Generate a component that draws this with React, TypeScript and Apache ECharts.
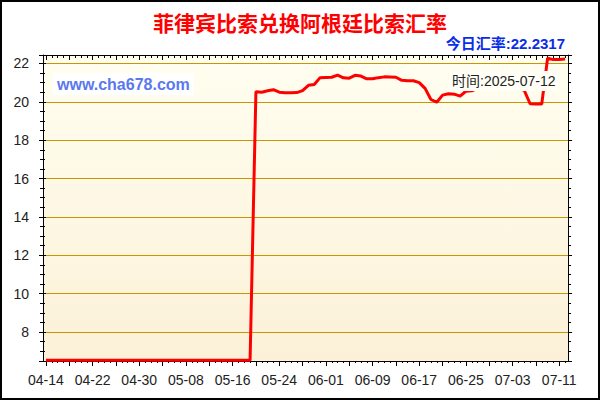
import * as echarts from 'echarts';
import { useEffect, useRef } from 'react';

// 日期: 2025-04-14 .. 2025-07-12
const START = new Date(2025, 3, 14);
const DAYS = 90;
const dates: string[] = [];
for (let i = 0; i < DAYS; i++) {
  const d = new Date(START.getFullYear(), START.getMonth(), START.getDate() + i);
  dates.push(String(d.getMonth() + 1).padStart(2, '0') + '-' + String(d.getDate()).padStart(2, '0'));
}

// 04-14 .. 05-19
const ratesBefore = [
  6.53, 6.53, 6.53, 6.53, 6.53, 6.53, 6.53, 6.53, 6.53, 6.53, 6.53, 6.53,
  6.53, 6.53, 6.53, 6.53, 6.53, 6.53, 6.53, 6.53, 6.53, 6.53, 6.53, 6.53,
  6.53, 6.53, 6.53, 6.53, 6.53, 6.53, 6.53, 6.53, 6.53, 6.53, 6.53, 6.53,
];
// 05-20 .. 07-12
const ratesAfter = [
  20.52, 20.5, 20.58, 20.63, 20.5, 20.47, 20.47, 20.48, 20.58, 20.86, 20.9, 21.26,
  21.27, 21.28, 21.39, 21.25, 21.23, 21.38, 21.34, 21.2, 21.2, 21.26, 21.3, 21.29,
  21.28, 21.12, 21.1, 21.1, 21.0, 20.7, 20.12, 19.98, 20.35, 20.42, 20.4, 20.3,
  20.55, 20.57, 20.7, 20.75, 20.75, 20.8, 20.8, 20.75, 20.7, 20.7, 20.6, 19.9,
  19.88, 19.88, 22.27, 22.2, 22.2, 22.23,
];
const rates = [...ratesBefore, ...ratesAfter];

const Y_MIN = 6.49;
const Y_MAX = 22.44;

const TITLE = '菲律宾比索兑换阿根廷比索汇率';
const TODAY = '今日汇率:22.2317';
const TIME_LABEL = '时间:2025-07-12';
const SITE = 'www.cha678.com';

const FONT = '"Liberation Sans", "Noto Sans CJK SC", sans-serif';

export default function App() {
  const chartRef = useRef<HTMLDivElement>(null);

  useEffect(() => {
    if (!chartRef.current) return;
    const chart = echarts.init(chartRef.current, null, { renderer: 'svg' });

    const black = { color: '#000', width: 1 };
    const yBase = {
      type: 'value',
      min: Y_MIN,
      max: Y_MAX,
      splitNumber: 8,
      minInterval: 2,
      maxInterval: 2,
    };
    const xBase = {
      type: 'category',
      data: dates,
      boundaryGap: true,
    };

    chart.setOption({
      animation: false,
      backgroundColor: '#fff',
      grid: {
        left: 43,
        top: 55,
        right: 32,
        bottom: 39,
        show: true,
        borderWidth: 0,
        backgroundColor: new echarts.graphic.LinearGradient(0, 0, 0, 1, [
          { offset: 0, color: '#FFFEF0' },
          { offset: 1, color: '#FCF1D8' },
        ]),
      },
      xAxis: [
        {
          ...xBase,
          position: 'bottom',
          axisLine: { show: true, onZero: false, lineStyle: black },
          axisTick: { show: true, alignWithLabel: true, length: 5, interval: (i: number) => i % 4 === 0, lineStyle: black },
          axisLabel: { interval: 7, margin: 12, fontSize: 14, color: '#222', fontFamily: FONT },
          splitLine: { show: false },
        },
        {
          ...xBase,
          position: 'bottom',
          axisLine: { show: false, onZero: false },
          axisTick: { show: true, alignWithLabel: true, length: 2, interval: 0, lineStyle: black },
          axisLabel: { show: false },
          splitLine: { show: false },
        },
        {
          ...xBase,
          position: 'top',
          axisLine: { show: true, onZero: false, lineStyle: black },
          axisTick: { show: true, inside: true, alignWithLabel: true, length: 5, interval: (i: number) => i % 4 === 0, lineStyle: black },
          axisLabel: { show: false },
          splitLine: { show: false },
        },
        {
          ...xBase,
          position: 'top',
          axisLine: { show: false, onZero: false },
          axisTick: { show: true, inside: true, alignWithLabel: true, length: 3, interval: 0, lineStyle: black },
          axisLabel: { show: false },
          splitLine: { show: false },
        },
      ],
      yAxis: [
        {
          ...yBase,
          position: 'left',
          axisLine: { show: true, onZero: false, lineStyle: black },
          axisTick: { show: true, length: 4, lineStyle: black },
          minorTick: { show: true, splitNumber: 4, length: 3, lineStyle: black },
          axisLabel: {
            margin: 14,
            fontSize: 14,
            color: '#222',
            fontFamily: FONT,
            showMinLabel: false,
            showMaxLabel: false,
          },
          splitLine: {
            show: true,
            showMinLine: false,
            showMaxLine: false,
            lineStyle: { color: '#C89600', width: 1 },
          },
        },
        {
          ...yBase,
          position: 'left',
          axisLine: { show: false, onZero: false },
          axisTick: { show: true, inside: true, length: 3, lineStyle: black },
          minorTick: { show: true, splitNumber: 4, length: 2, lineStyle: black },
          axisLabel: { show: false },
          splitLine: { show: false },
        },
        {
          ...yBase,
          position: 'right',
          axisLine: { show: true, onZero: false, lineStyle: black },
          axisTick: { show: true, length: 4, lineStyle: black },
          minorTick: { show: true, splitNumber: 4, length: 3, lineStyle: black },
          axisLabel: { show: false },
          splitLine: { show: false },
        },
      ],
      series: [
        {
          type: 'line',
          data: rates,
          xAxisIndex: 0,
          yAxisIndex: 0,
          showSymbol: false,
          lineStyle: { color: '#FF0000', width: 3 },
          z: 5,
        },
      ],
      graphic: [
        {
          type: 'rect',
          z: 100,
          shape: { x: 1, y: 1, width: 598, height: 398 },
          style: { fill: 'none', stroke: '#000', lineWidth: 2 },
        },
        {
          type: 'text',
          z: 100,
          x: 300,
          y: 22,
          style: {
            text: TITLE,
            fill: '#FF0000',
            font: 'bold 21px "Noto Sans CJK SC", sans-serif',
            textAlign: 'center',
            textVerticalAlign: 'middle',
          },
        },
        {
          type: 'text',
          z: 100,
          x: 565,
          y: 43,
          style: {
            text: TODAY,
            fill: '#0A2EE8',
            font: 'bold 15px "Liberation Sans", "Noto Sans CJK SC", sans-serif',
            textAlign: 'right',
            textVerticalAlign: 'middle',
          },
        },
        {
          type: 'text',
          z: 100,
          x: 53,
          y: 84,
          style: {
            text: SITE,
            fill: '#5B78EE',
            font: 'bold 16px "Liberation Sans", sans-serif',
            textAlign: 'left',
            textVerticalAlign: 'middle',
            backgroundColor: '#FFFFFF',
            padding: [3, 4, 3, 4],
          },
        },
        {
          type: 'text',
          z: 100,
          x: 449,
          y: 81,
          style: {
            text: TIME_LABEL,
            fill: '#222',
            font: '14px "Liberation Sans", "Noto Sans CJK SC", sans-serif',
            textAlign: 'left',
            textVerticalAlign: 'middle',
            backgroundColor: '#FFFFF8',
            padding: [3, 3, 3, 3],
          },
        },
      ],
    });

    return () => {
      chart.dispose();
    };
  }, []);

  return (
    <div
      ref={chartRef}
      style={{ position: 'absolute', left: 0, top: 0, width: '600px', height: '400px' }}
    />
  );
}
